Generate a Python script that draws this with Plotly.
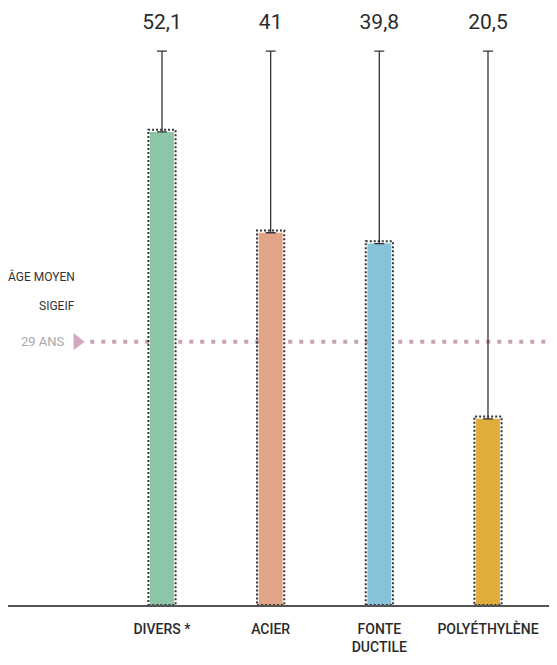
import plotly.graph_objects as go

categories = ['DIVERS *', 'ACIER', 'FONTE<br>DUCTILE', 'POLYÉTHYLÈNE']
ages = [52.1, 41, 39.8, 20.5]
age_labels = ['52,1', '41', '39,8', '20,5']
avg_age = 29
colors = ['#8cc6a6', '#e2a487', '#86c3d9', '#e1ad3a']

FONT = 'Roboto, sans-serif'
TOP = 61      # where the leader lines end
LABEL_Y = 64  # value labels
BAR_W = 0.22

fig = go.Figure()

fig.add_trace(go.Bar(
    x=list(range(len(ages))),
    y=ages,
    width=BAR_W,
    marker_color=colors,
    marker_line_width=0,
    error_y=dict(type='data', symmetric=False,
                 array=[TOP - a for a in ages], arrayminus=[0] * len(ages),
                 color='#333333', thickness=1.3, width=5),
    hoverinfo='skip',
))

# dotted outline round each bar
for i, a in enumerate(ages):
    fig.add_shape(type='rect', xref='x', yref='y',
                  x0=i - BAR_W / 2 - 0.015, x1=i + BAR_W / 2 + 0.015, y0=0, y1=a + 0.25,
                  line=dict(color='#333333', width=2, dash='2px,2px'),
                  fillcolor='rgba(0,0,0,0)', layer='above')

# value labels above the lines
fig.add_trace(go.Scatter(
    x=list(range(len(ages))), y=[LABEL_Y] * len(ages),
    mode='text', text=age_labels,
    textfont=dict(family=FONT, size=21, color='#2b2b2b'),
    hoverinfo='skip',
))

# average age line
fig.add_shape(type='line', xref='x', yref='y', x0=-0.66, x1=3.7, y0=avg_age, y1=avg_age,
              line=dict(color='#c8a2b6', width=4, dash='4px,7px'), layer='below')
fig.add_trace(go.Scatter(
    x=[-0.78], y=[avg_age], mode='markers',
    marker=dict(symbol='triangle-right', size=15, color='#d4a9c0'),
    hoverinfo='skip',
))
fig.add_annotation(x=-0.87, y=avg_age, xref='x', yref='y', text='29 ANS',
                   showarrow=False, xanchor='right',
                   font=dict(family=FONT, size=13, color='#a8a8a8'))
fig.add_annotation(x=-0.78, y=avg_age + 7.2, xref='x', yref='y', text='ÂGE MOYEN',
                   showarrow=False, xanchor='right',
                   font=dict(family=FONT, size=12, color='#333333'))
fig.add_annotation(x=-0.78, y=avg_age + 3.9, xref='x', yref='y', text='SIGEIF',
                   showarrow=False, xanchor='right',
                   font=dict(family=FONT, size=12, color='#333333'))

fig.update_layout(
    width=549, height=657,
    margin=dict(l=0, r=0, t=0, b=60),
    paper_bgcolor='white', plot_bgcolor='white',
    showlegend=False,
    xaxis=dict(range=[-1.417, 3.635], tickvals=list(range(len(ages))), ticktext=categories,
               showgrid=False, zeroline=False, showline=True, linecolor='#555555',
               linewidth=2, ticks='', ticklabelstandoff=10,
               tickfont=dict(family=FONT, size=14, color='#2b2b2b', weight=500)),
    yaxis=dict(range=[0, 65.75], visible=False, showgrid=False, zeroline=False),
)

fig.write_html('out.html')
